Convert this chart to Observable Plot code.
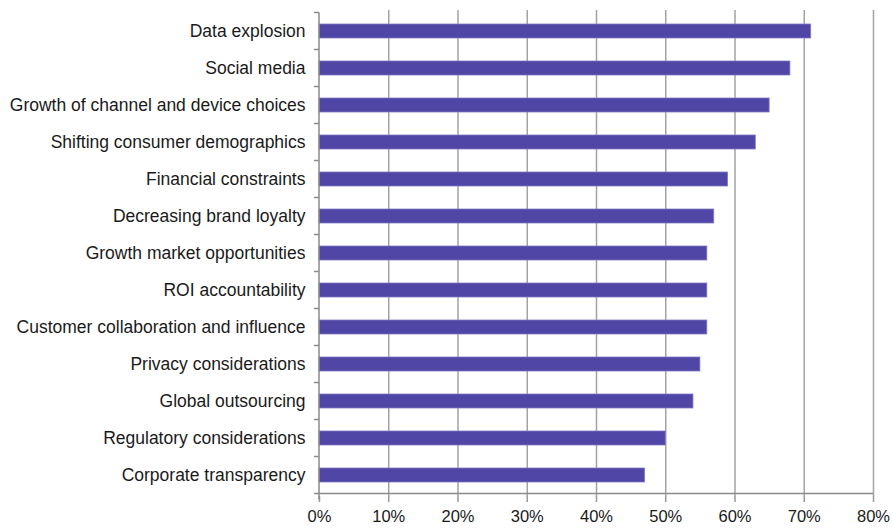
<!DOCTYPE html>
<html>
<head>
<meta charset="utf-8">
<script src="https://cdn.jsdelivr.net/npm/d3@7"></script>
<script src="https://cdn.jsdelivr.net/npm/@observablehq/plot@0.6"></script>
<style>
  html, body { margin: 0; padding: 0; background: #fff; }
  #chart { width: 893px; height: 528px; }
</style>
</head>
<body>
<div id="chart"></div>
<script>
const categories = [
  "Data explosion",
  "Social media",
  "Growth of channel and device choices",
  "Shifting consumer demographics",
  "Financial constraints",
  "Decreasing brand loyalty",
  "Growth market opportunities",
  "ROI accountability",
  "Customer collaboration and influence",
  "Privacy considerations",
  "Global outsourcing",
  "Regulatory considerations",
  "Corporate transparency"
];
const values = [0.71, 0.68, 0.65, 0.63, 0.59, 0.57, 0.56, 0.56, 0.56, 0.55, 0.54, 0.50, 0.47];
const xTicks = [0, 0.1, 0.2, 0.3, 0.4, 0.5, 0.6, 0.7, 0.8];

const data = categories.map((c, i) => ({category: c, value: values[i]}));

const chart = Plot.plot({
  width: 893,
  height: 528,
  marginLeft: 319,
  marginRight: 20,
  marginTop: 10,
  marginBottom: 32,
  style: {fontFamily: "'Liberation Sans', Arial, sans-serif", fontSize: "16px", color: "#1a1a1a", background: "#fff"},
  x: {domain: [0, 0.8], label: null},
  y: {domain: categories, paddingInner: 0.61, paddingOuter: 0.305, label: null},
  marks: [
    Plot.ruleX(xTicks.filter(d => d > 0), {stroke: "#a3a3a3", strokeWidth: 1.5}),
    Plot.barX(data, {x: "value", y: "category", fill: "#5046a5", stroke: "#7e77c6", strokeWidth: 0.8}),
    Plot.axisX({ticks: xTicks, tickFormat: d3.format(".0%"), tickSize: 6, tickPadding: 8, stroke: "#999", strokeWidth: 1.5, fontSize: 16.5, label: null}),
    Plot.axisY({tickSize: 0, tickPadding: 14, fontSize: 17.5, label: null})
  ]
});

document.getElementById("chart").appendChild(chart);

// axis lines and category boundary ticks, positioned from the chart's own scales
(function () {
  const xs = chart.scale("x");
  const ys = chart.scale("y");
  const svg = d3.select(chart);
  const x0 = xs.apply(0), xEnd = xs.apply(0.8);
  const step = ys.step;
  const yTop = ys.apply(categories[0]) - (step - ys.bandwidth) / 2;
  const yBottom = yTop + step * categories.length;
  const g = svg.append("g").attr("stroke", "#8a8a8a").attr("stroke-width", 1.5);
  g.append("line").attr("x1", x0).attr("x2", xEnd).attr("y1", yBottom).attr("y2", yBottom);
  g.append("line").attr("x1", x0).attr("x2", x0).attr("y1", yTop).attr("y2", yBottom + 6);
  for (let i = 0; i <= categories.length; i++) {
    const yy = yTop + step * i;
    g.append("line").attr("x1", x0 - 5).attr("x2", x0).attr("y1", yy).attr("y2", yy);
  }
})();
</script>
</body>
</html>
